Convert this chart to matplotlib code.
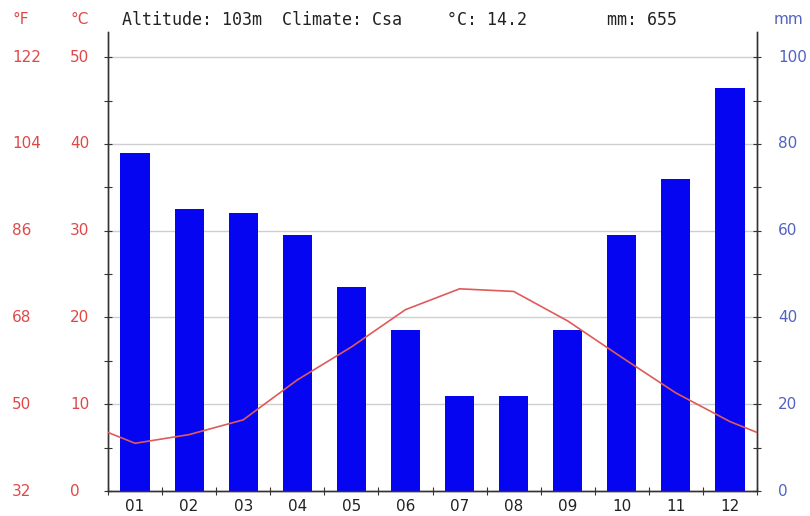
import matplotlib
matplotlib.use("Agg")
import matplotlib.pyplot as plt
import matplotlib.transforms as mtransforms
import numpy as np

months = ["01", "02", "03", "04", "05", "06", "07", "08", "09", "10", "11", "12"]
precip_mm = [78, 65, 64, 59, 47, 37, 22, 22, 37, 59, 72, 93]
temp_c = [5.5, 6.5, 8.2, 12.8, 16.6, 20.9, 23.3, 23.0, 19.6, 15.4, 11.3, 8.0]
c_ticks = [0, 10, 20, 30, 40, 50]
f_labels = ["32", "50", "68", "86", "104", "122"]
mm_ticks = [0, 20, 40, 60, 80, 100]
altitude = "103m"
climate = "Csa"
mean_c = "14.2"
total_mm = "655"

W, H = 810, 516
fig = plt.figure(figsize=(W / 100, H / 100), dpi=100)
L, R, B, T = 108, 757, 491, 32
ax = fig.add_axes([L / W, 1 - B / H, (R - L) / W, (B - T) / H])
ax2 = ax.twinx()

red = "#e04848"
blue = "#5262c4"
spine_c = "#333333"

top_c = 52.9
ax.set_ylim(0, top_c * 2)
ax2.set_ylim(0, top_c)
ax.set_xlim(0, 12)

x = np.arange(12) + 0.5
ax.bar(x, precip_mm, width=0.54, color="#0505f2", zorder=3)

# temperature line extended to the edges using wrap-around months
xl = np.concatenate([[-0.5], x, [12.5]])
yl = [temp_c[-1]] + temp_c + [temp_c[0]]
ax2.plot(xl, yl, color="#e05a5a", lw=1.2, clip_on=True, zorder=4)

# gridlines every 10 C
for v in c_ticks[1:]:
    ax.axhline(v * 2, color="#cfcfcf", lw=1.0, zorder=1)

for a in (ax, ax2):
    a.spines["top"].set_visible(False)
    for s in ("left", "right", "bottom"):
        a.spines[s].set_color(spine_c)
        a.spines[s].set_linewidth(1.0)

# x ticks
ax.set_xticks(np.arange(13))
ax.set_xticklabels([])
ax.set_xticks(x, minor=True)
ax.set_xticklabels(months, minor=True, fontsize=11, color="#222222")
ax.tick_params(axis="x", which="major", direction="inout", length=6, color=spine_c)
ax.tick_params(axis="x", which="minor", length=0, pad=6)

# y ticks: left, right
ax.set_yticks(np.arange(0, 106, 10))
ax.set_yticklabels([])
ax.tick_params(axis="y", which="major", direction="inout", length=6, color=spine_c,
               left=True, right=False)
ax2.set_yticks(np.arange(0, 53, 5))
ax2.set_yticklabels([])
ax2.tick_params(axis="y", direction="inout", length=6, color=spine_c, right=True, left=False)

trans_l = mtransforms.blended_transform_factory(fig.transFigure, ax2.transData)
trans_r = mtransforms.blended_transform_factory(fig.transFigure, ax.transData)
for v, fl in zip(c_ticks, f_labels):
    fig.text(12 / W, v, fl, transform=trans_l, ha="left", va="center", color=red, fontsize=11)
    fig.text(70 / W, v, str(v), transform=trans_l, ha="left", va="center", color=red, fontsize=11)
for v in mm_ticks:
    fig.text(778 / W, v, str(v), transform=trans_r, ha="left", va="center", color=blue, fontsize=11)

ty = 1 - 20 / H
fig.text(12 / W, ty, "°F", color=red, fontsize=11, va="center", ha="left")
fig.text(70 / W, ty, "°C", color=red, fontsize=11, va="center", ha="left")
fig.text(774 / W, ty, "mm", color=blue, fontsize=11, va="center", ha="left")
mono = "DejaVu Sans Mono"
fig.text(122 / W, ty, f"Altitude: {altitude}  Climate: {climate}", family=mono,
         fontsize=12, va="center", ha="left", color="#222222")
fig.text(447 / W, ty, f"°C: {mean_c}", family=mono, fontsize=12, va="center",
         ha="left", color="#222222")
fig.text(607 / W, ty, f"mm: {total_mm}", family=mono, fontsize=12, va="center",
         ha="left", color="#222222")

fig.savefig("out.png", dpi=100)
